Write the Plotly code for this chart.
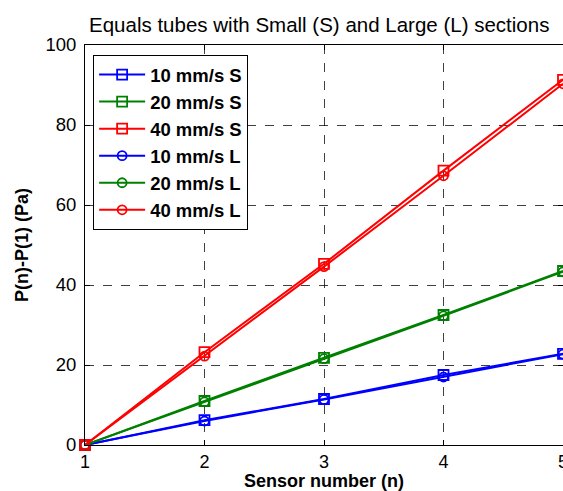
import plotly.graph_objects as go

sensors = [1, 2, 3, 4, 5]
v10_S = [0, 6.2, 11.5, 17.5, 22.8]
v20_S = [0, 11.0, 21.8, 32.5, 43.5]
v40_S = [0, 23.2, 45.3, 68.6, 91.3]
v10_L = [0, 6.0, 11.4, 17.0, 22.7]
v20_L = [0, 10.8, 21.6, 32.3, 43.3]
v40_L = [0, 22.2, 44.6, 67.3, 90.3]

series = [
    ("10 mm/s S", v10_S, "#0000ff", "square-open"),
    ("20 mm/s S", v20_S, "#008000", "square-open"),
    ("40 mm/s S", v40_S, "#ff0000", "square-open"),
    ("10 mm/s L", v10_L, "#0000ff", "circle-open"),
    ("20 mm/s L", v20_L, "#008000", "circle-open"),
    ("40 mm/s L", v40_L, "#ff0000", "circle-open"),
]

fig = go.Figure()
for i, (name, vals, col, sym) in enumerate(series):
    fig.add_trace(go.Scatter(
        x=sensors, y=vals, name=name, mode="lines+markers",
        line=dict(color=col, width=2),
        marker=dict(symbol=sym, size=10 if "square" in sym else 9,
                    color=col, line=dict(color=col, width=1.8)),
        legendgroup=f"g{i}", cliponaxis=False,
    ))

font_family = "Liberation Sans, Arial, sans-serif"
fig.update_layout(
    width=563, height=491,
    margin=dict(l=85, r=0, t=45, b=46),
    paper_bgcolor="white", plot_bgcolor="white",
    title=dict(text="Equals tubes with Small (S) and Large (L) sections",
               x=0.567, xanchor="center", y=1 - 25 / 491, yanchor="middle",
               font=dict(family=font_family, size=20.5, color="black")),
    showlegend=True,
    legend=dict(x=0.017, y=0.975, xanchor="left", yanchor="top",
                bgcolor="white", bordercolor="black", borderwidth=1,
                font=dict(family=font_family, size=18.5, color="black", weight="bold"),
                tracegroupgap=0, itemwidth=46),
    font=dict(family=font_family, color="black"),
)
fig.update_xaxes(
    range=[1, 5], tickvals=[1, 2, 3, 4, 5], ticks="inside", ticklen=5,
    tickcolor="black", showline=True, linecolor="black", linewidth=1, mirror="ticks",
    showgrid=True, gridcolor="rgba(0,0,0,0.75)", griddash="dash", gridwidth=1,
    zeroline=False, tickfont=dict(size=18, family=font_family, color="black"),
    ticklabeloverflow="allow", automargin=False,
    title=dict(text="<b>Sensor number (n)</b>", standoff=4,
               font=dict(size=18, family=font_family, color="black")),
)
fig.update_yaxes(
    range=[0, 100], tickvals=[0, 20, 40, 60, 80, 100], ticks="inside", ticklen=5,
    tickcolor="black", showline=True, linecolor="black", linewidth=1, mirror="ticks",
    showgrid=True, gridcolor="rgba(0,0,0,0.75)", griddash="dash", gridwidth=1,
    zeroline=False, tickfont=dict(size=18.5, family=font_family, color="black"),
    ticklabelstandoff=4, automargin=False,
    title=dict(text="<b>P(n)-P(1) (Pa)</b>", standoff=12,
               font=dict(size=18, family=font_family, color="black")),
)

fig.write_html("out.html")
